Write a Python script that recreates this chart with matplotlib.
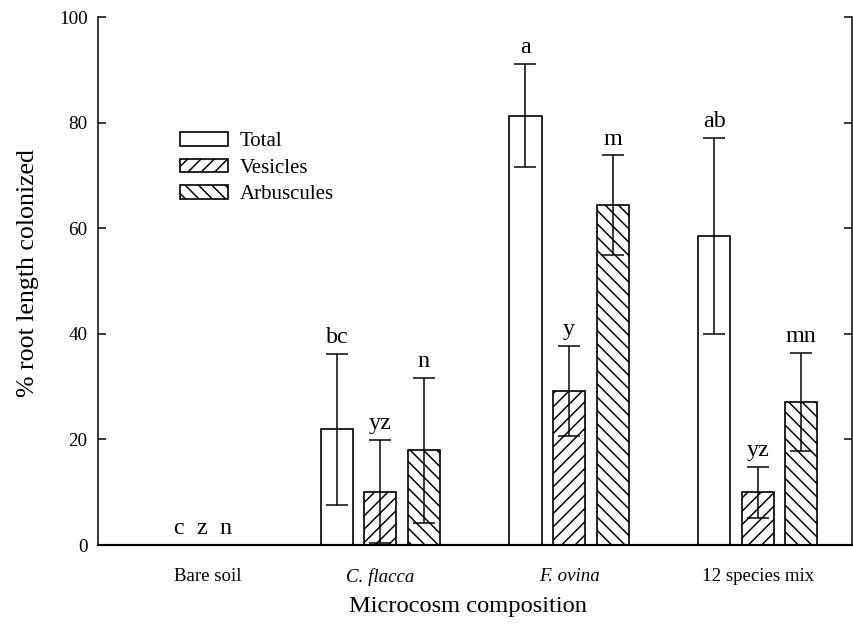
import matplotlib
matplotlib.use('Agg')
import matplotlib.pyplot as plt
import numpy as np

plt.rcParams['font.family'] = ['Liberation Serif', 'DejaVu Serif']
plt.rcParams['hatch.linewidth'] = 0.9

# data
groups = ['Bare soil', 'C. flacca', 'F. ovina', '12 species mix']
group_pos = [0.085, 1, 2, 3]
series = ['Total', 'Vesicles', 'Arbuscules']
hatches = ['', '///', '\\\\\\']

total = [0, 21.9, 81.3, 58.5]
total_err = [0, 14.3, 9.8, 18.6]
vesicles = [0, 10.1, 29.2, 10.0]
vesicles_err = [0, 9.8, 8.5, 4.8]
arbuscules = [0, 17.9, 64.4, 27.1]
arbuscules_err = [0, 13.7, 9.4, 9.3]

letters_total = ['c', 'bc', 'a', 'ab']
letters_ves = ['z', 'yz', 'y', 'yz']
letters_arb = ['n', 'n', 'm', 'mn']

dpi = 120
fig = plt.figure(figsize=(853 / dpi, 631 / dpi), dpi=dpi)
ax = fig.add_axes([97.5 / 853, 86 / 631, (852 - 97.5) / 853, (545 - 17) / 631])

width = 0.17
step = 0.231
x = np.array(group_pos)

vals = [total, vesicles, arbuscules]
errs = [total_err, vesicles_err, arbuscules_err]
lets = [letters_total, letters_ves, letters_arb]

for k in range(3):
    xs = x + (k - 1) * step
    ax.bar(xs, vals[k], width, color='white', edgecolor='black',
           linewidth=1.0, hatch=hatches[k], label=series[k], zorder=2)
    v = np.array(vals[k])
    e = np.array(errs[k])
    m = e > 0
    ax.errorbar(xs[m], v[m], yerr=e[m], fmt='none', ecolor='black',
                elinewidth=0.9, capsize=6.5, capthick=0.9, zorder=3)
    for i in range(len(groups)):
        xi = xs[i]
        if v[i] == 0:
            # bare soil letters sit closer together, a bit left of the label
            xi = x[i] - 0.032 + (k - 1) * 0.125
        ax.annotate(lets[k][i], (xi, v[i] + e[i]), xytext=(0, 3.5),
                    textcoords='offset points', ha='center', va='bottom',
                    fontsize=14.5)

ax.set_xlim(-0.5, 3.5)
ax.set_ylim(0, 100)
ax.set_yticks([0, 20, 40, 60, 80, 100])
ax.set_xticks(x)
ax.set_xticklabels(groups)
for lab in ax.get_xticklabels()[1:3]:
    lab.set_style('italic')
ax.tick_params(axis='x', length=0, pad=14, labelsize=11.3)
ax.tick_params(axis='y', direction='in', length=4.8, width=0.9, labelsize=11.5,
               right=True, pad=6)
ax.spines['top'].set_visible(False)
ax.spines['left'].set_linewidth(0.9)
ax.spines['right'].set_linewidth(0.9)
ax.spines['bottom'].set_linewidth(1.3)

ax.set_ylabel('% root length colonized', fontsize=15.5)
ax.yaxis.set_label_coords(-0.0775, 0.515)
ax.set_xlabel('Microcosm composition', fontsize=14.7)
ax.xaxis.set_label_coords(0.491, -0.096)

ax.legend(loc='upper left', bbox_to_anchor=(0.1093, 0.782), frameon=False,
          fontsize=12.5, handlelength=2.3, handleheight=0.62, labelspacing=0.36,
          handletextpad=0.58, borderpad=0, borderaxespad=0)

fig.savefig('out.png', dpi=dpi)
